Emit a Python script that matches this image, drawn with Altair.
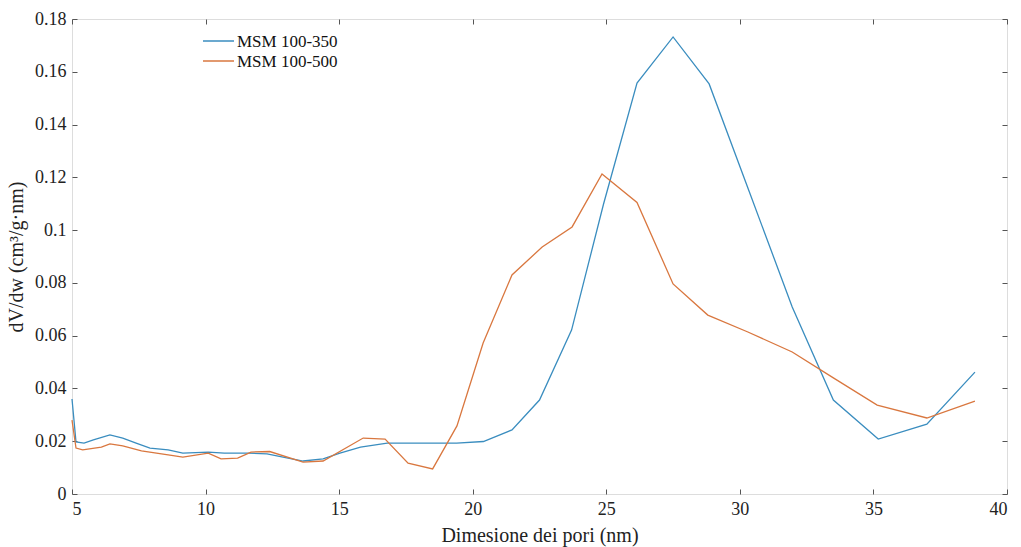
import altair as alt
import pandas as pd

x_350 = [5.0, 5.15, 5.45, 5.8, 6.42, 6.9, 7.4, 7.92, 8.6, 9.15, 10.1, 10.7, 11.6, 12.3,
         12.9, 13.65, 14.4, 15.03, 15.8, 16.8, 17.65, 19.4, 20.4, 21.47, 22.5, 23.7,
         24.9, 26.15, 27.5, 28.85, 30.35, 31.96, 33.5, 35.18, 37.0, 38.8]
y_350 = [0.036, 0.0197, 0.0193, 0.0205, 0.0224, 0.0212, 0.0193, 0.0174, 0.0167, 0.0155,
         0.0159, 0.0155, 0.0155, 0.0152, 0.0140, 0.0125, 0.0133, 0.0155, 0.0178, 0.0193,
         0.0193, 0.0193, 0.0199, 0.0243, 0.0356, 0.0621, 0.110, 0.1557, 0.1732, 0.1554,
         0.1146, 0.0709, 0.0356, 0.0208, 0.0265, 0.0462]

x_500 = [5.0, 5.15, 5.4, 6.1, 6.42, 6.9, 7.6, 8.6, 9.15, 10.1, 10.58, 11.2, 11.7, 12.4,
         13.65, 14.4, 15.9, 16.72, 17.58, 18.5, 19.41, 20.39, 21.47, 22.6, 23.72, 24.84,
         26.15, 27.5, 28.8, 30.3, 31.96, 33.5, 35.14, 37.0, 38.8]
y_500 = [0.028, 0.0174, 0.0167, 0.0178, 0.0190, 0.0182, 0.0163, 0.0148, 0.0140, 0.0155,
         0.0133, 0.0136, 0.0159, 0.0161, 0.0121, 0.0125, 0.0212, 0.0208, 0.0117, 0.0095,
         0.0258, 0.0572, 0.0830, 0.0936, 0.1012, 0.1213, 0.1105, 0.0796, 0.0678, 0.0614,
         0.0538, 0.0440, 0.0337, 0.0288, 0.0352]

series = ["MSM 100-350", "MSM 100-500"]
colors = ["#3A8DBF", "#D9773F"]
x_ticks = [5, 10, 15, 20, 25, 30, 35, 40]
y_ticks = [0, 0.02, 0.04, 0.06, 0.08, 0.1, 0.12, 0.14, 0.16, 0.18]

rows = []
for i, (xv, yv) in enumerate(zip(x_350, y_350)):
    rows.append({"x": xv, "y": yv, "s": series[0], "o": i})
for i, (xv, yv) in enumerate(zip(x_500, y_500)):
    rows.append({"x": xv, "y": yv, "s": series[1], "o": i})
df = pd.DataFrame(rows)

FONT = "Liberation Serif"
xscale = alt.Scale(domain=[5, 40], nice=False, zero=False)
yscale = alt.Scale(domain=[0, 0.18], nice=False)

common_axis = dict(domain=False, ticks=True, tickSize=5, offset=-5, tickColor="#555",
                   labelFont=FONT, labelFontSize=18, labelColor="#222", grid=False,
                   titleFont=FONT, titleFontSize=20, titleColor="#222", titleFontWeight="normal")

main = alt.Chart(df).mark_line(strokeWidth=1.3).encode(
    x=alt.X("x:Q", scale=xscale,
            axis=alt.Axis(values=x_ticks, title="Dimesione dei pori (nm)", format="d",
                          labelPadding=6, titlePadding=7, **common_axis)),
    y=alt.Y("y:Q", scale=yscale,
            axis=alt.Axis(values=y_ticks, title="dV/dw (cm³/g·nm)",
                          labelExpr="datum.value == 0 ? '0' : format(datum.value, '.2~f')",
                          labelPadding=6, titlePadding=8, **common_axis)),
    color=alt.Color("s:N", scale=alt.Scale(domain=series, range=colors), legend=None),
    order="o:Q",
)

top_right = alt.Chart(df).mark_line(opacity=0).encode(
    x=alt.X("x:Q", scale=xscale,
            axis=alt.Axis(orient="top", values=x_ticks, labels=False, title=None,
                          domain=False, ticks=True, tickSize=5, offset=-5, tickColor="#555", grid=False)),
    y=alt.Y("y:Q", scale=yscale,
            axis=alt.Axis(orient="right", values=y_ticks, labels=False, title=None,
                          domain=False, ticks=True, tickSize=5, offset=-5, tickColor="#555", grid=False)),
)

legend_layers = []
for k, (name, col) in enumerate(zip(series, colors)):
    ly = 22 + 20 * k
    ldf = pd.DataFrame({"s": [name]})
    legend_layers.append(
        alt.Chart(ldf).mark_rule(color=col, strokeWidth=1.5).encode(
            x=alt.value(131), x2=alt.value(162), y=alt.value(ly))
    )
    legend_layers.append(
        alt.Chart(ldf).mark_text(align="left", baseline="middle", font=FONT, fontSize=17,
                                 color="#111").encode(
            x=alt.value(165), y=alt.value(ly + 1), text="s:N")
    )

chart = alt.layer(main, top_right, *legend_layers).resolve_axis(
    x="independent", y="independent").properties(
    width=935, height=475,
    padding={"left": 72, "top": 19, "right": 14, "bottom": 53},
    autosize=alt.AutoSizeParams(type="none"),
).configure_view(stroke="#777", strokeWidth=1.2).configure(background="white")

chart.save("out.html", embed_options={"renderer": "svg", "actions": False})
